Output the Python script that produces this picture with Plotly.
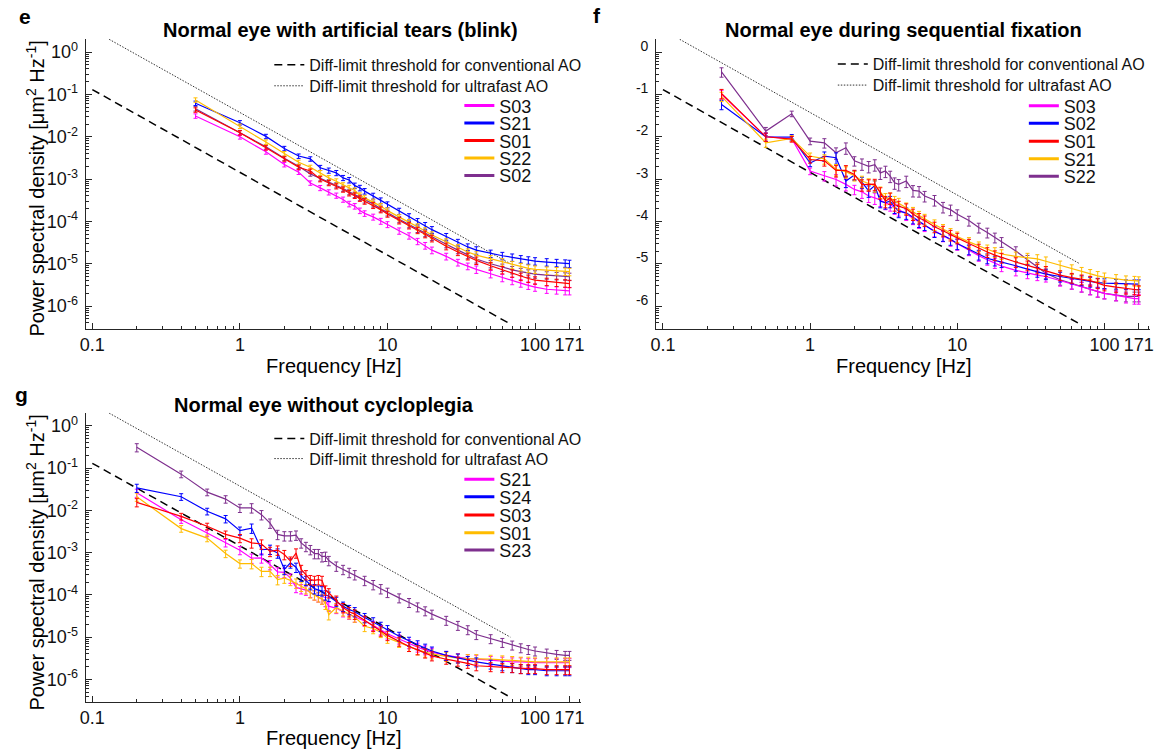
import plotly.graph_objects as go

W, H = 1160, 751
FONT = "Arial, Liberation Sans, sans-serif"
AX = "#262626"
TXT = "#111111"

COLORS = {"magenta": "#FF00FF", "blue": "#0000FF", "red": "#FF0000",
          "orange": "#FFBC00", "purple": "#7E2F8E"}

# ---------------- threshold lines ----------------
TH_CONV_F = [0.1, 66]
TH_CONV_P = [0.13, 4.0e-7]
TH_FAST_F = [0.13, 68]
TH_FAST_P = [2.0, 1.0e-5]
TH_LABELS = ["Diff-limit threshold for conventional AO",
             "Diff-limit threshold for ultrafast AO"]

# ---------------- tick labels ----------------
X_TICKS = [0.1, 1, 10, 100, 171]
X_TICKTEXT = ["0.1", "1", "10", "100", "171"]
Y_TICKS = [1e-6, 1e-5, 1e-4, 1e-3, 1e-2, 1e-1, 1]
Y_EXP = ["-6", "-5", "-4", "-3", "-2", "-1", "0"]

TITLES = ["Normal eye with artificial tears (blink)",
          "Normal eye during sequential fixation",
          "Normal eye without cycloplegia"]
LETTERS = ["e", "f", "g"]
X_TITLE = "Frequency [Hz]"
Y_TITLE = "Power spectral density [μm<sup>2</sup> Hz<sup>-1</sup>]"

# ---------------- panel e ----------------
F_E = [0.5, 1, 1.5, 2, 2.5, 3, 3.5, 4, 4.5, 5, 5.5, 6, 6.5, 7, 8, 9, 10, 12, 14, 16,
       18, 20, 25, 30, 35, 40, 50, 60, 70, 80, 90, 100, 120, 140, 160, 171]
E_LABELS = ["S03", "S21", "S01", "S22", "S02"]
E_S03 = [0.031, 0.0100, 0.0044, 0.0022, 0.00146, 0.00081, 0.00062, 0.00049, 0.00041, 0.00033,
         0.00026, 0.00023, 0.00018, 0.000155, 0.000128, 0.000102, 0.000085, 0.000060, 0.000046, 0.000034,
         0.000027, 0.000021, 0.000015, 0.0000108, 0.0000088, 0.0000074, 0.0000058, 0.0000047, 0.0000040, 0.0000035,
         0.0000031, 0.0000028, 0.0000025, 0.0000024, 0.0000023, 0.0000023]
E_S21 = [0.062, 0.0215, 0.0102, 0.0053, 0.0035, 0.0030, 0.00185, 0.0016, 0.0014, 0.00107,
         0.00095, 0.00070, 0.00062, 0.00052, 0.00040, 0.00031, 0.00025, 0.000175, 0.000130, 0.000100,
         0.000080, 0.000064, 0.000044, 0.000032, 0.000025, 0.000021, 0.0000175, 0.0000155, 0.0000142, 0.0000130,
         0.0000122, 0.0000116, 0.0000110, 0.0000106, 0.0000103, 0.0000101]
E_S01 = [0.043, 0.0124, 0.0055, 0.0030, 0.0019, 0.00155, 0.0010, 0.00081, 0.00068, 0.00057,
         0.00047, 0.00041, 0.00035, 0.00030, 0.00024, 0.00019, 0.000150, 0.000105, 0.000080, 0.000062,
         0.000050, 0.000040, 0.000026, 0.000019, 0.000015, 0.000012, 0.0000090, 0.0000072, 0.0000060, 0.0000050,
         0.0000045, 0.0000041, 0.0000038, 0.0000036, 0.0000035, 0.0000034]
E_S22 = [0.074, 0.0178, 0.0075, 0.0040, 0.0025, 0.0019, 0.0014, 0.00107, 0.00089, 0.00072,
         0.00062, 0.00054, 0.00041, 0.00036, 0.00029, 0.00023, 0.000180, 0.000125, 0.000095, 0.000075,
         0.000060, 0.000048, 0.000033, 0.000024, 0.000019, 0.000016, 0.000013, 0.000011, 0.0000095, 0.0000085,
         0.0000078, 0.0000074, 0.0000070, 0.0000068, 0.0000066, 0.0000065]
E_S02 = [0.046, 0.0126, 0.0058, 0.0031, 0.0020, 0.00133, 0.00105, 0.00085, 0.00072, 0.00060,
         0.00050, 0.00043, 0.00037, 0.00032, 0.00026, 0.00020, 0.000160, 0.000112, 0.000085, 0.000066,
         0.000053, 0.000043, 0.000029, 0.000021, 0.000016, 0.000013, 0.0000100, 0.0000082, 0.0000072, 0.0000065,
         0.0000060, 0.0000057, 0.0000054, 0.0000052, 0.0000051, 0.0000050]
ERR_E = [0.12, 0.12, 0.12, 0.12, 0.12, 0.12, 0.14, 0.14, 0.14, 0.14,
         0.15, 0.15, 0.15, 0.15, 0.16, 0.16, 0.16, 0.17, 0.17, 0.17,
         0.18, 0.18, 0.18, 0.18, 0.18, 0.20, 0.20, 0.20, 0.20, 0.20,
         0.20, 0.20, 0.20, 0.20, 0.20, 0.20]

# ---------------- panel f ----------------
F_F = [0.25, 0.5, 0.75, 1, 1.25, 1.5, 1.75, 2, 2.25, 2.5,
       2.75, 3, 3.25, 3.5, 3.75, 4, 4.5, 5, 5.5, 6,
       7, 8, 9, 10, 12, 14, 16, 18, 20, 25,
       30, 35, 40, 50, 60, 70, 80, 90, 100, 120,
       140, 160, 171]
F_LABELS = ["S03", "S02", "S01", "S21", "S22"]
F_S03 = [0.10, 0.0100, 0.0090, 0.00155, 0.0012, 0.00098, 0.00075, 0.00057, 0.00050, 0.00040,
         0.00036, 0.00032, 0.00027, 0.00025, 0.00021, 0.00019, 0.000150, 0.000120, 0.000095, 0.000080,
         0.000060, 0.000046, 0.000036, 0.000029, 0.000021, 0.0000155, 0.0000125, 0.0000105, 0.0000088, 0.0000070,
         0.0000060, 0.0000054, 0.0000050, 0.0000040, 0.0000034, 0.0000029, 0.0000025, 0.0000022, 0.0000020, 0.0000018,
         0.0000016, 0.0000015, 0.0000015]
F_S02 = [0.058, 0.0100, 0.0098, 0.0024, 0.0035, 0.0032, 0.00090, 0.00125, 0.00085, 0.00053,
         0.00070, 0.00030, 0.00028, 0.00030, 0.00022, 0.000175, 0.000160, 0.000125, 0.000100, 0.000085,
         0.000058, 0.000047, 0.000038, 0.000030, 0.000022, 0.0000165, 0.0000135, 0.0000120, 0.0000110, 0.0000090,
         0.0000075, 0.0000065, 0.0000057, 0.0000050, 0.0000045, 0.0000041, 0.0000038, 0.0000036, 0.0000035, 0.0000034,
         0.0000033, 0.0000033, 0.0000033]
F_S01 = [0.105, 0.0100, 0.0088, 0.0029, 0.0027, 0.0016, 0.0016, 0.00129, 0.00074, 0.00074,
         0.00076, 0.00048, 0.00030, 0.00036, 0.00025, 0.00023, 0.00020, 0.000150, 0.000120, 0.000105,
         0.000075, 0.000060, 0.000048, 0.000041, 0.000030, 0.000023, 0.000019, 0.000016, 0.000014, 0.000011,
         0.0000092, 0.0000078, 0.0000068, 0.0000054, 0.0000047, 0.0000043, 0.0000040, 0.0000035, 0.0000031, 0.0000028,
         0.0000026, 0.0000025, 0.0000024]
F_S21 = [0.090, 0.0072, 0.0092, 0.0035, 0.0030, 0.0017, 0.0015, 0.0012, 0.00090, 0.00078,
         0.00070, 0.00050, 0.00035, 0.00036, 0.00030, 0.00027, 0.00021, 0.000165, 0.000135, 0.000115,
         0.000085, 0.000066, 0.000053, 0.000044, 0.000033, 0.000026, 0.000022, 0.000019, 0.000017, 0.000015,
         0.000014, 0.000013, 0.0000115, 0.0000092, 0.0000075, 0.0000065, 0.0000058, 0.0000052, 0.0000048, 0.0000044,
         0.0000041, 0.0000040, 0.0000039]
F_S22 = [0.34, 0.0136, 0.035, 0.0079, 0.0072, 0.0042, 0.0055, 0.0027, 0.0023, 0.0020,
         0.0022, 0.0014, 0.00155, 0.00118, 0.00082, 0.00075, 0.00090, 0.00054, 0.00052, 0.00040,
         0.00032, 0.00022, 0.00019, 0.000147, 0.000105, 0.000072, 0.000055, 0.000042, 0.000033, 0.000020,
         0.0000125, 0.0000085, 0.0000060, 0.0000042, 0.0000034, 0.0000029, 0.0000025, 0.0000022, 0.0000020, 0.0000018,
         0.0000017, 0.0000017, 0.0000017]
ERR_F = [0.25, 0.22, 0.15, 0.18, 0.25, 0.30, 0.30, 0.25, 0.30, 0.30,
         0.30, 0.30, 0.30, 0.30, 0.30, 0.30, 0.30, 0.30, 0.28, 0.28,
         0.28, 0.28, 0.28, 0.28, 0.26, 0.26, 0.26, 0.26, 0.26, 0.26,
         0.26, 0.26, 0.26, 0.26, 0.26, 0.26, 0.26, 0.26, 0.26, 0.26,
         0.26, 0.26, 0.26]

# ---------------- panel g ----------------
F_G = [0.2, 0.4, 0.6, 0.8, 1, 1.2, 1.4, 1.6, 1.8, 2,
       2.2, 2.4, 2.6, 2.8, 3, 3.2, 3.4, 3.6, 3.8, 4,
       4.5, 5, 5.5, 6, 7, 8, 9, 10, 12, 14,
       16, 18, 20, 25, 30, 35, 40, 50, 60, 70,
       80, 90, 100, 120, 140, 160, 171]
G_LABELS = ["S21", "S24", "S03", "S01", "S23"]
G_S21 = [0.026, 0.0060, 0.0029, 0.0017, 0.00114, 0.00074, 0.00075, 0.00052, 0.00035, 0.00034,
         0.00025, 0.000150, 0.000140, 0.000130, 0.000115, 0.000100, 0.000090, 0.000080, 0.000070, 0.000054,
         0.000048, 0.000040, 0.000035, 0.000030, 0.000024, 0.000019, 0.000015, 0.0000120, 0.0000090, 0.0000070,
         0.0000058, 0.0000050, 0.0000044, 0.0000037, 0.0000033, 0.0000031, 0.0000030, 0.0000028, 0.0000027, 0.0000026,
         0.0000026, 0.0000025, 0.0000025, 0.0000025, 0.0000025, 0.0000025, 0.0000025]
G_S24 = [0.034, 0.021, 0.0095, 0.0063, 0.0033, 0.0038, 0.00118, 0.00120, 0.00098, 0.00040,
         0.00057, 0.00045, 0.00028, 0.00022, 0.000175, 0.000140, 0.000130, 0.000125, 0.000100, 0.000093,
         0.000070, 0.000054, 0.000045, 0.000040, 0.000029, 0.000023, 0.000018, 0.0000150, 0.0000105, 0.0000080,
         0.0000066, 0.0000055, 0.0000047, 0.0000037, 0.0000032, 0.0000028, 0.0000026, 0.0000023, 0.0000021, 0.0000019,
         0.0000018, 0.0000017, 0.0000017, 0.0000016, 0.0000016, 0.0000016, 0.0000016]
G_S03 = [0.0155, 0.0072, 0.0042, 0.0027, 0.0022, 0.0017, 0.0016, 0.00107, 0.00115, 0.00090,
         0.00063, 0.00098, 0.00040, 0.00030, 0.00023, 0.00022, 0.00023, 0.00022, 0.000130, 0.000112,
         0.000075, 0.000050, 0.000040, 0.000035, 0.000025, 0.000018, 0.000014, 0.0000110, 0.0000080, 0.0000060,
         0.0000050, 0.0000042, 0.0000036, 0.0000030, 0.0000027, 0.0000024, 0.0000021, 0.0000020, 0.0000019, 0.0000019,
         0.0000018, 0.0000018, 0.0000018, 0.0000017, 0.0000017, 0.0000017, 0.0000017]
G_S01 = [0.021, 0.0037, 0.0022, 0.00095, 0.00055, 0.00055, 0.00036, 0.00036, 0.00023, 0.00025,
         0.00022, 0.00019, 0.000160, 0.000140, 0.000112, 0.000100, 0.000090, 0.000080, 0.000060, 0.000034,
         0.000050, 0.000042, 0.000036, 0.000030, 0.000018, 0.000016, 0.000013, 0.0000095, 0.0000075, 0.0000060,
         0.0000050, 0.0000044, 0.0000040, 0.0000035, 0.0000032, 0.0000031, 0.0000031, 0.0000030, 0.0000029, 0.0000028,
         0.0000027, 0.0000027, 0.0000026, 0.0000026, 0.0000026, 0.0000026, 0.0000026]
G_S23 = [0.31, 0.072, 0.027, 0.0185, 0.0114, 0.0115, 0.0079, 0.0050, 0.0027, 0.0025,
         0.0025, 0.0026, 0.0017, 0.0014, 0.00118, 0.00095, 0.00095, 0.00080, 0.00082, 0.00065,
         0.00048, 0.00040, 0.00034, 0.00030, 0.00022, 0.000175, 0.000140, 0.000115, 0.000085, 0.000066,
         0.000052, 0.000042, 0.000035, 0.000025, 0.000019, 0.000015, 0.0000115, 0.0000092, 0.0000075, 0.0000065,
         0.0000056, 0.0000051, 0.0000047, 0.0000042, 0.0000039, 0.0000037, 0.0000037]
ERR_G = [0.22, 0.18, 0.18, 0.20, 0.22, 0.25, 0.25, 0.25, 0.25, 0.25,
         0.25, 0.25, 0.25, 0.25, 0.25, 0.25, 0.25, 0.25, 0.25, 0.25,
         0.25, 0.25, 0.25, 0.25, 0.25, 0.25, 0.25, 0.25, 0.24, 0.24,
         0.24, 0.24, 0.24, 0.24, 0.24, 0.24, 0.24, 0.24, 0.24, 0.24,
         0.24, 0.24, 0.24, 0.24, 0.24, 0.24, 0.24]

# ---------------- panel specs (layout only) ----------------
PANELS = [
    dict(xa="x", ya="y", box=(80.4, 579.8, 38, 328), freq=F_E, err=ERR_E,
         series=[(E_LABELS[4], E_S02, "purple"), (E_LABELS[0], E_S03, "magenta"),
                 (E_LABELS[1], E_S21, "blue"), (E_LABELS[3], E_S22, "orange"),
                 (E_LABELS[2], E_S01, "red")],
         legend_labels=E_LABELS, legend_colors=["magenta", "blue", "red", "orange", "purple"],
         th_x=270.6, th_rows=[64, 85], sub_x=462.3, sub_rows=[105, 122.5, 140, 157.5, 175],
         title_xy=(337, 29), letter_xy=(19, 16), xt_xy=(330.7, 365), yt_xy=(29.5, 187.5),
         exp_only=False),
    dict(xa="x2", ya="y2", box=(656, 1154, 38, 328), freq=F_F, err=ERR_F,
         series=[(F_LABELS[4], F_S22, "purple"), (F_LABELS[0], F_S03, "magenta"),
                 (F_LABELS[1], F_S02, "blue"), (F_LABELS[3], F_S21, "orange"),
                 (F_LABELS[2], F_S01, "red")],
         legend_labels=F_LABELS, legend_colors=["magenta", "blue", "red", "orange", "purple"],
         th_x=839, th_rows=[63.3, 84.3], sub_x=1031.7, sub_rows=[105.3, 122.7, 140.7, 158.3, 175.7],
         title_xy=(905, 29), letter_xy=(596, 15), xt_xy=(906, 365), yt_xy=None,
         exp_only=True),
    dict(xa="x3", ya="y3", box=(80.4, 579.8, 412.3, 701.7), freq=F_G, err=ERR_G,
         series=[(G_LABELS[4], G_S23, "purple"), (G_LABELS[0], G_S21, "magenta"),
                 (G_LABELS[3], G_S01, "orange"), (G_LABELS[1], G_S24, "blue"),
                 (G_LABELS[2], G_S03, "red")],
         legend_labels=G_LABELS, legend_colors=["magenta", "blue", "red", "orange", "purple"],
         th_x=270.6, th_rows=[438.3, 458.3], sub_x=462.3, sub_rows=[479.3, 496.7, 515, 532.7, 550],
         title_xy=(320.5, 405), letter_xy=(16, 394), xt_xy=(330.7, 738), yt_xy=(29.5, 562),
         exp_only=False),
]

X_RANGE = [-1.045, 2.31]
Y_RANGE = [-6.53, 0.31]
X_MINOR = [m * 10.0 ** d for d in range(-1, 3) for m in range(2, 10) if m * 10.0 ** d < 10 ** X_RANGE[1]]
Y_MINOR = [m * 10.0 ** d for d in range(-7, 1) for m in range(2, 10)
           if 10 ** Y_RANGE[0] < m * 10.0 ** d < 10 ** Y_RANGE[1]]

fig = go.Figure()
layout = dict(width=W, height=H, margin=dict(l=0, r=0, t=0, b=0), autosize=False,
              paper_bgcolor="white", plot_bgcolor="white", showlegend=True,
              font=dict(family=FONT, color=TXT))
annotations = []
legend_count = [0]


def new_legend(line_x, row_y, size):
    legend_count[0] += 1
    name = "legend" if legend_count[0] == 1 else "legend%d" % legend_count[0]
    layout[name] = dict(x=(line_x - 5) / W, y=1 - row_y / H, xanchor="left", yanchor="middle",
                        xref="paper", yref="paper",
                        bgcolor="rgba(0,0,0,0)", borderwidth=0, itemwidth=30,
                        font=dict(family=FONT, size=size, color=TXT))
    return name


def pann(text, xy, size, bold=False, angle=0):
    annotations.append(dict(text=("<b>%s</b>" % text) if bold else text,
                            x=xy[0] / W, y=1 - xy[1] / H, xref="paper", yref="paper",
                            xanchor="center", yanchor="middle", showarrow=False, textangle=angle,
                            font=dict(family=FONT, size=size, color="black")))


for i, p in enumerate(PANELS):
    xa, ya = p["xa"], p["ya"]
    x0, x1, yt, yb = p["box"]
    suffix = "" if i == 0 else str(i + 1)
    layout["xaxis" + suffix] = dict(
        type="log", range=X_RANGE, domain=[x0 / W, x1 / W], anchor=ya,
        tickmode="array", tickvals=X_TICKS, ticktext=X_TICKTEXT,
        ticks="inside", ticklen=6, tickwidth=1, tickcolor=AX,
        showline=True, linecolor=AX, linewidth=1, mirror=False,
        showgrid=False, zeroline=False,
        tickfont=dict(family=FONT, size=18, color=TXT),
        minor=dict(tickmode="array", tickvals=X_MINOR, ticks="inside", ticklen=3,
                   tickwidth=1, tickcolor=AX, showgrid=False))
    if p["exp_only"]:
        ytext = ["<sup>%s</sup>" % e for e in Y_EXP]
    else:
        ytext = ["10<sup>%s</sup>" % e for e in Y_EXP]
    layout["yaxis" + suffix] = dict(
        type="log", range=Y_RANGE, domain=[1 - yb / H, 1 - yt / H], anchor=xa,
        tickmode="array", tickvals=Y_TICKS, ticktext=ytext,
        ticks="inside", ticklen=6, tickwidth=1, tickcolor=AX,
        showline=True, linecolor=AX, linewidth=1, mirror=False,
        showgrid=False, zeroline=False, ticklabelstandoff=3,
        tickfont=dict(family=FONT, size=20 if p["exp_only"] else 18, color=TXT),
        minor=dict(tickmode="array", tickvals=Y_MINOR, ticks="inside", ticklen=3,
                   tickwidth=1, tickcolor=AX, showgrid=False))

    # threshold lines
    lg = new_legend(p["th_x"], p["th_rows"][0], 16)
    fig.add_trace(go.Scatter(x=TH_CONV_F, y=TH_CONV_P, mode="lines", name=TH_LABELS[0],
                             line=dict(color="black", width=1.5, dash="8px,5px"),
                             xaxis=xa, yaxis=ya, legend=lg, hoverinfo="skip"))
    lg = new_legend(p["th_x"], p["th_rows"][1], 16)
    fig.add_trace(go.Scatter(x=TH_FAST_F, y=TH_FAST_P, mode="lines", name=TH_LABELS[1],
                             line=dict(color="#333333", width=1, dash="1.5px,1.5px"),
                             xaxis=xa, yaxis=ya, legend=lg, hoverinfo="skip"))

    # subject series
    for label, vals, cname in p["series"]:
        c = COLORS[cname]
        fig.add_trace(go.Scatter(
            x=p["freq"], y=vals, mode="lines", name=label, showlegend=False,
            line=dict(color=c, width=1.2),
            error_y=dict(type="data", array=[v * r for v, r in zip(vals, p["err"])],
                         symmetric=True, color=c, thickness=1, width=2),
            xaxis=xa, yaxis=ya))
    # legend entries for subjects (legend-only proxies with thick line)
    for label, cname, row in zip(p["legend_labels"], p["legend_colors"], p["sub_rows"]):
        lg = new_legend(p["sub_x"], row, 18)
        fig.add_trace(go.Scatter(x=[None], y=[None], mode="lines", name=label,
                                 line=dict(color=COLORS[cname], width=3),
                                 xaxis=xa, yaxis=ya, legend=lg, hoverinfo="skip"))

    pann(TITLES[i], p["title_xy"], 20, bold=True)
    pann(LETTERS[i], p["letter_xy"], 21, bold=True)
    pann(X_TITLE, p["xt_xy"], 20)
    if p["yt_xy"] is not None:
        pann(Y_TITLE, p["yt_xy"], 20, angle=-90)

layout["annotations"] = annotations
fig.update_layout(**layout)
fig.write_html("out.html", config={"responsive": False, "displayModeBar": False},
               post_script="document.body.style.margin='0';document.body.style.overflow='hidden';")
